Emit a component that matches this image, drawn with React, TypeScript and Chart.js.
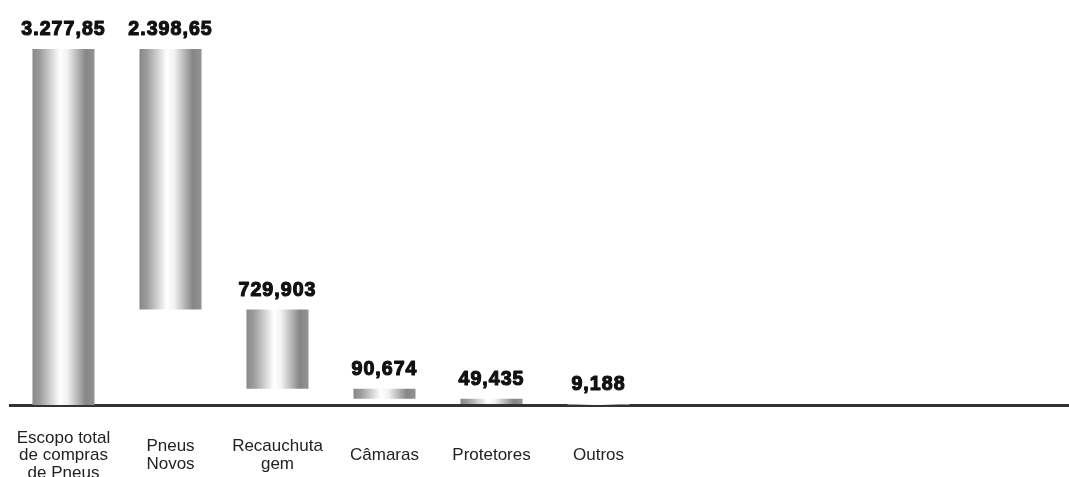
import React, { useEffect, useRef } from "react";
import { Chart, registerables } from "chart.js";

Chart.register(...registerables);

const categories: (string | string[])[] = [
  ["Escopo total", "de compras", "de Pneus"],
  ["Pneus", "Novos"],
  ["Recauchuta", "gem"],
  "Câmaras",
  "Protetores",
  "Outros",
  "",
  "",
  "",
  "",
];
const values = [3277.85, 2398.65, 729.903, 90.674, 49.435, 9.188];
const valueLabels = ["3.277,85", "2.398,65", "729,903", "90,674", "49,435", "9,188"];
const yMax = 3730;

function buildRanges(): [number, number][] {
  const out: [number, number][] = [];
  const total = values[0];
  out.push([0, total]);
  let remaining = total;
  for (let i = 1; i < values.length; i++) {
    const next = remaining - values[i];
    out.push([Math.max(0, next), remaining]);
    remaining = next;
  }
  return out;
}

const BAR_PCT = 0.58;

const valueLabelPlugin = {
  id: "valueLabels",
  afterDatasetsDraw(chart: any) {
    const meta = chart.getDatasetMeta(0);
    const ctx = chart.ctx;
    meta.data.forEach((el: any, i: number) => {
      const top = Math.min(el.y, el.base);
      ctx.save();
      ctx.translate(el.x, top - 14);
      ctx.scale(1.03, 1.1);
      ctx.font = "bold 19px 'Liberation Sans', Arial, sans-serif";
      try {
        (ctx as any).letterSpacing = "1px";
      } catch (e) {}
      ctx.textAlign = "center";
      ctx.textBaseline = "alphabetic";
      ctx.fillStyle = "#111";
      ctx.strokeStyle = "#111";
      ctx.lineWidth = 1.1;
      ctx.lineJoin = "round";
      ctx.fillText(valueLabels[i], 0, 0);
      ctx.strokeText(valueLabels[i], 0, 0);
      ctx.restore();
    });
  },
};

export default function App() {
  const ref = useRef<HTMLCanvasElement | null>(null);

  useEffect(() => {
    document.body.style.margin = "0";
    document.documentElement.style.overflow = "hidden";
    document.body.style.overflow = "hidden";
    if (!ref.current) return;
    const ranges = buildRanges();
    const chart = new Chart(ref.current, {
      type: "bar",
      data: {
        labels: categories as any,
        datasets: [
          {
            data: ranges as any,
            borderWidth: 0,
            categoryPercentage: 1,
            barPercentage: BAR_PCT,
            backgroundColor: (c: any) => {
              const ch = c.chart;
              const xs = ch.scales?.x;
              if (!xs || !ch.chartArea) return "#aaa";
              const cx = xs.getPixelForValue(c.dataIndex);
              const w = (xs.width / categories.length) * BAR_PCT;
              const g = ch.ctx.createLinearGradient(cx - w / 2, 0, cx + w / 2, 0);
              g.addColorStop(0, "#888888");
              g.addColorStop(0.12, "#9c9c9c");
              g.addColorStop(0.44, "#ffffff");
              g.addColorStop(0.56, "#f2f2f2");
              g.addColorStop(0.86, "#858585");
              g.addColorStop(1, "#949494");
              return g;
            },
          },
        ],
      },
      options: {
        responsive: false,
        animation: false,
        layout: { padding: { left: 10, right: 0, top: 0, bottom: 0 } },
        plugins: {
          legend: { display: false },
          tooltip: { enabled: false },
          title: { display: false },
        },
        scales: {
          x: {
            grid: { display: false },
            border: { display: true, color: "#333", width: 3 },
            ticks: {
              autoSkip: false,
              maxRotation: 0,
              minRotation: 0,
              padding: 25,
              crossAlign: "center",
              color: "#222",
              font: { family: "'Liberation Sans', Arial, sans-serif", size: 17, lineHeight: "17.5px" as any },
            },
            afterFit: (scale: any) => {
              scale.height = 72;
              scale.paddingLeft = 0;
              scale.paddingRight = 0;
            },
          },
          y: {
            display: false,
            min: 0,
            max: yMax,
          },
        },
      },
      plugins: [valueLabelPlugin],
    });
    return () => chart.destroy();
  }, []);

  return (
    <div style={{ width: 1080, height: 477 }}>
      <canvas ref={ref} width={1080} height={477} />
    </div>
  );
}
